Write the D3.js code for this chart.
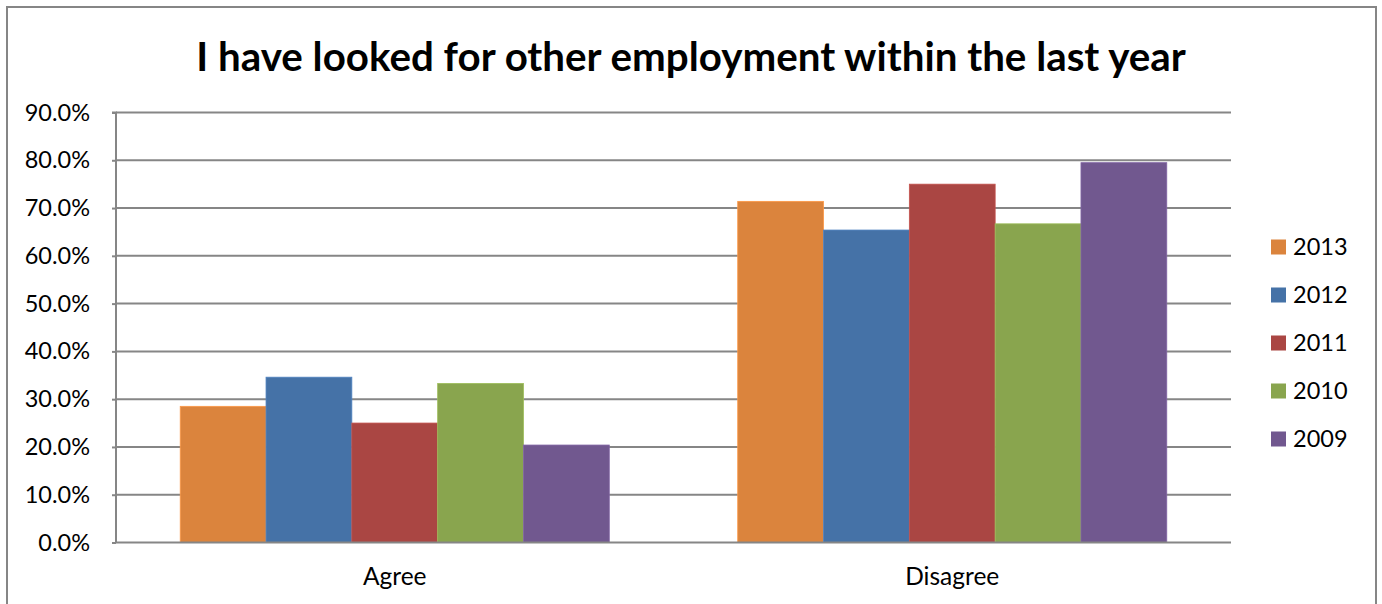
<!DOCTYPE html>
<html><head><meta charset="utf-8">
<script src="https://cdn.jsdelivr.net/npm/d3@7"></script>
<style>body{margin:0;background:#fff}svg{display:block}</style>
</head><body>
<script>
const categories = ["Agree", "Disagree"];
const seriesNames = ["2013", "2012", "2011", "2010", "2009"];
const values2013 = [28.5, 71.4];
const values2012 = [34.6, 65.4];
const values2011 = [25.0, 75.0];
const values2010 = [33.3, 66.7];
const values2009 = [20.4, 79.5];
const yTicks = [0, 10, 20, 30, 40, 50, 60, 70, 80, 90];
const colors = ["#DB843D", "#4572A7", "#AA4643", "#89A54E", "#71588F"];
const title = "I have looked for other employment within the last year";

(function () {
const series = [values2013, values2012, values2011, values2010, values2009];
const W = 1382, H = 604;
const FONT = "Lato, 'Open Sans', sans-serif";
const svg = d3.select("body").append("svg").attr("width", W).attr("height", H);
svg.append("rect").attr("x", 7).attr("y", 7).attr("width", 1369).attr("height", 610)
  .attr("fill", "#fff").attr("stroke", "#868686").attr("stroke-width", 2);

const pL = 116, pR = 1231, pT = 112.5, pB = 542.5;
const x0 = d3.scaleBand().domain(categories).range([pL, pR]).paddingInner(0.2304).paddingOuter(0.1152);
const x1 = d3.scaleBand().domain(seriesNames).range([0, x0.bandwidth()]);
const y = d3.scaleLinear().domain([0, 90]).range([pB, pT]);

svg.append("g").selectAll("line").data(yTicks.filter(d => d > 0)).join("line")
  .attr("x1", pL).attr("x2", pR).attr("y1", d => y(d)).attr("y2", d => y(d))
  .attr("stroke", "#868686").attr("stroke-width", 2);

const g = svg.append("g");
seriesNames.forEach((s, i) => {
  g.append("g").selectAll("rect").data(categories).join("rect")
    .attr("x", c => x0(c) + x1(s))
    .attr("width", x1.bandwidth())
    .attr("y", (c, j) => y(series[i][j]))
    .attr("height", (c, j) => y(0) - y(series[i][j]))
    .attr("fill", colors[i])
    .attr("stroke", d3.color(colors[i]).brighter(0.4))
    .attr("stroke-width", 0.8);
});

const yAxis = d3.axisLeft(y).tickValues(yTicks).tickSize(4).tickPadding(22)
  .tickFormat(d => d.toFixed(1) + "%");
const ya = svg.append("g").attr("transform", `translate(${pL},0)`).call(yAxis);
ya.select(".domain").attr("stroke", "#868686").attr("stroke-width", 2).attr("d", `M-4,${pT}H0V${pB}`);
ya.selectAll(".tick line").attr("stroke", "#868686").attr("stroke-width", 2);
ya.selectAll("text").attr("font-family", FONT).attr("font-size", 23.5).attr("fill", "#000");

const xAxis = d3.axisBottom(x0).tickSize(0).tickPadding(25);
const xa = svg.append("g").attr("transform", `translate(0,${pB})`).call(xAxis);
xa.select(".domain").attr("stroke", "#868686").attr("stroke-width", 2).attr("d", `M${pL},0H${pR}`);
xa.selectAll("text").attr("font-family", FONT).attr("font-size", 24.5).attr("fill", "#000");

svg.append("text").attr("x", 691).attr("y", 71).attr("text-anchor", "middle")
  .attr("font-family", FONT).attr("font-weight", "bold").attr("font-size", 40.3)
  .attr("fill", "#000").text(title);

const lg = svg.append("g");
seriesNames.forEach((s, i) => {
  const cy = 247 + i * 48;
  lg.append("rect").attr("x", 1271).attr("y", cy - 7.5).attr("width", 15).attr("height", 15).attr("fill", colors[i]);
  lg.append("text").attr("x", 1293).attr("y", cy).attr("dy", "0.35em")
    .attr("font-family", FONT).attr("font-size", 23.5).attr("fill", "#000").text(s);
});
})();
</script>
</body></html>
